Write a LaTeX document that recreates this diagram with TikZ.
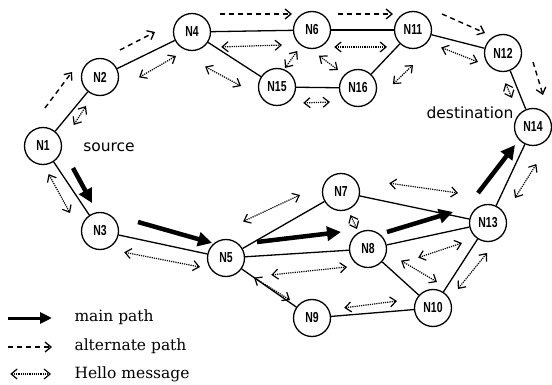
\documentclass[tikz,border=0pt]{standalone}
\usepackage{fontspec}
\usepackage{graphicx}
\newfontfamily\nodefont{Liberation Sans}
\newfontfamily\lblfont{DejaVu Sans}
\newfontfamily\legfont{DejaVu Serif}
\usetikzlibrary{arrows.meta}
\newcommand\nlab[1]{\scalebox{0.72}[1]{\nodefont\bfseries #1}}
\begin{document}
\begin{tikzpicture}[x=1pt,y=-1pt,
  nd/.style={circle,draw,line width=1.3pt,minimum size=37pt,inner sep=0pt,fill=white,font=\fontsize{14.5}{14.5}\selectfont},
  edge/.style={line width=1.3pt},
  mainarr/.style={line width=4.5pt,-{Triangle[length=14pt,width=14pt]}},
  altarr/.style={line width=1.4pt,dash pattern=on 5pt off 4pt,-{Straight Barb[length=6pt,width=10pt,line width=1.3pt]}},
  hello/.style={line width=1.2pt,densely dotted,{Straight Barb[length=6pt,width=10pt,line width=1.2pt,sep]}-{Straight Barb[length=6pt,width=10pt,line width=1.2pt]}},
  lbl/.style={font=\lblfont\fontsize{15.5}{15.5}\selectfont},
  leg/.style={font=\legfont\fontsize{15.5}{15.5}\selectfont,anchor=west}]
\useasboundingbox (0,0) rectangle (552,385);
% nodes
\node[nd] (N1) at (43,146) {\nlab{N1}};
\node[nd] (N2) at (100,77) {\nlab{N2}};
\node[nd] (N4) at (192,32) {\nlab{N4}};
\node[nd] (N6) at (312,30) {\nlab{N6}};
\node[nd] (N11) at (413,30) {\nlab{N11}};
\node[nd] (N12) at (503,53) {\nlab{N12}};
\node[nd] (N14) at (533,127) {\nlab{N14}};
\node[nd] (N15) at (277,87) {\nlab{N15}};
\node[nd] (N16) at (358,88) {\nlab{N16}};
\node[nd] (N3) at (100,231) {\nlab{N3}};
\node[nd] (N5) at (226,258) {\nlab{N5}};
\node[nd] (N7) at (341,192) {\nlab{N7}};
\node[nd] (N8) at (368,249) {\nlab{N8}};
\node[nd] (N9) at (312,318) {\nlab{N9}};
\node[nd] (N10) at (433,308) {\nlab{N10}};
\node[nd] (N13) at (488,223) {\nlab{N13}};
% edges
\foreach \a/\b in {N1/N2,N2/N4,N4/N6,N4/N15,N6/N11,N15/N16,N16/N11,N11/N12,N12/N14,N1/N3,N3/N5,N5/N7,N5/N8,N5/N9,N7/N13,N8/N13,N8/N10,N9/N10,N10/N13,N13/N14}
  \draw[edge] (\a) -- (\b);
% labels
\node[lbl] (src) at (109,147) {source};
\node[lbl] (dst) at (470,113) {destination};
% main path
\draw[mainarr] (73,168) -- (92,203);
\draw[mainarr] (138,222) -- (212,243);
\draw[mainarr] (257,242) -- (341,232);
\draw[mainarr] (387,232) -- (453,212);
\draw[mainarr] (478,193) -- (515,145);
% alternate path
\draw[altarr] (45,108) -- (72,72);
\draw[altarr] (120,50) -- (155,32);
\draw[altarr] (220,14) -- (292,14);
\draw[altarr] (338,14) -- (393,14);
\draw[altarr] (442,14) -- (485,33);
\draw[altarr] (533,62) -- (543,95);
% hello messages
\draw[hello] (73,126) -- (86,106);
\draw[hello] (138,78) -- (176,56);
\draw[hello] (204,66) -- (241,86);
\draw[hello] (220,47) -- (282,45);
\draw[hello] (298,50) -- (285,68);
\draw[hello] (318,55) -- (338,70);
\draw[hello] (302,103) -- (330,102);
\draw[hello] (333,47) -- (387,47);
\draw[hello] (392,85) -- (413,65);
\draw[hello] (440,47) -- (478,62);
\draw[hello] (505,82) -- (512,98);
\draw[hello] (537,163) -- (515,198);
\draw[hello] (48,173) -- (70,213);
\draw[hello] (123,252) -- (200,267);
\draw[hello] (242,222) -- (300,195);
\draw[hello] (270,275) -- (347,267);
\draw[hello] (253,277) -- (290,300);
\draw[hello] (350,214) -- (357,229);
\draw[hello] (388,183) -- (458,193);
\draw[hello] (417,258) -- (462,243);
\draw[hello] (400,260) -- (437,282);
\draw[hello] (343,308) -- (397,301);
\draw[hello] (457,290) -- (487,253);
% legend
\coordinate (l1a) at (8,318); \coordinate (l1b) at (52,318);
\coordinate (l2a) at (8,347); \coordinate (l2b) at (52,347);
\coordinate (l3a) at (9,374); \coordinate (l3b) at (51,374);
\draw[mainarr,line width=3pt,-{Triangle[length=12pt,width=11pt]}] (l1a) -- (l1b);
\draw[altarr] (l2a) -- (l2b);
\draw[hello] (l3a) -- (l3b);
\node[leg] (t1) at (71,317) {main path};
\node[leg] (t2) at (71,346) {alternate path};
\node[leg] (t3) at (71,374) {Hello message};
\end{tikzpicture}
\end{document}
